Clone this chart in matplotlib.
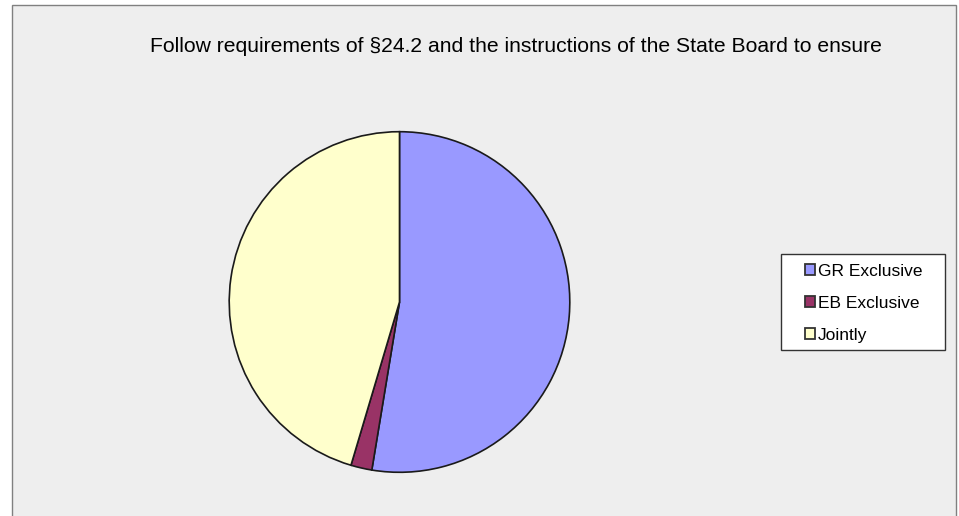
import matplotlib.pyplot as plt
from matplotlib.patches import Rectangle

# Data
labels = ['GR Exclusive', 'EB Exclusive', 'Jointly']
shares = [52.6, 2.0, 45.4]
colors = ['#9999FF', '#993366', '#FFFFCC']

W, H = 959, 516
fig = plt.figure(figsize=(W / 100, H / 100), dpi=100)
fig.patch.set_facecolor('white')

# gray chart area with border (bottom edge runs off the image)
fig.patches.append(Rectangle((12 / W, -0.05), (956 - 12) / W, 1.05 - 5 / H,
                             transform=fig.transFigure, facecolor='#EEEEEE',
                             edgecolor='#808080', linewidth=1.0, zorder=-5))

fig.text(516 / W, 1 - 46 / H,
         'Follow requirements of §24.2 and the instructions of the State Board to ensure',
         ha='center', va='center', fontsize=15.2, family='Liberation Sans', color='#000000')

# pie
cx, cy, r = 399.5, 302, 172
ax = fig.add_axes([(cx - r) / W, (H - cy - r) / H, 2 * r / W, 2 * r / H])
ax.pie(shares, colors=colors, startangle=90, counterclock=False,
       wedgeprops=dict(edgecolor='#1a1a1a', linewidth=1.2))
ax.set_xlim(-1.01, 1.01)
ax.set_ylim(-1.01, 1.01)
ax.set_aspect('auto')
ax.axis('off')

# legend box drawn by hand, entries placed inside it
fig.patches.append(Rectangle((781 / W, 1 - 350 / H), (945 - 781) / W, (350 - 254) / H,
                             transform=fig.transFigure, facecolor='white',
                             edgecolor='#333333', linewidth=1.0, zorder=-4))
handles = [Rectangle((0, 0), 1, 1, facecolor=c, edgecolor='#333333', linewidth=1.3) for c in colors]
leg = fig.legend(handles, labels, loc='upper left',
                 bbox_to_anchor=(795 / W, 1 - 254 / H), bbox_transform=fig.transFigure,
                 prop={'family': 'Liberation Sans', 'size': 12.5},
                 frameon=False, handlelength=0.62, handleheight=0.62,
                 handletextpad=0.15, labelspacing=0.98, borderpad=0.55, borderaxespad=0)

fig.savefig('out.png', dpi=100)
